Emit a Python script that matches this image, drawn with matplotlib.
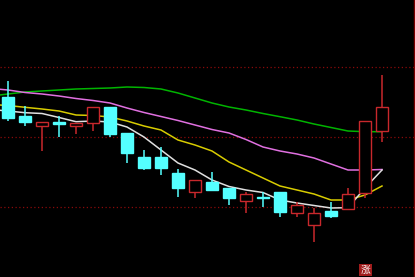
import matplotlib
matplotlib.use("Agg")
import matplotlib.pyplot as plt
import numpy as np

""" datos de las velas (precio en unidades arbitrarias) """
opens  = [18.03, 16.13, 15.13, 15.53, 15.15, 15.45, 17.03, 14.37, 12.03, 12.03, 10.45, 8.55,
          9.53, 8.87, 7.63, 8.01, 8.53, 6.37, 5.17, 6.63, 6.77, 8.37, 14.60]
closes = [15.93, 15.53, 15.53, 15.27, 15.45, 17.03, 14.30, 12.37, 10.87, 10.87, 8.87, 9.75,
          8.67, 7.87, 8.30, 7.93, 6.48, 7.23, 6.40, 6.13, 8.30, 15.63, 17.03]
highs  = [19.63, 17.13, 15.53, 16.13, 15.45, 17.03, 17.03, 14.37, 12.70, 13.00, 10.78, 9.75,
          10.53, 8.87, 8.53, 8.47, 8.53, 7.50, 6.95, 7.48, 8.87, 15.63, 20.20]
lows   = [15.63, 15.13, 12.63, 14.03, 14.30, 14.65, 14.03, 11.45, 10.70, 10.20, 8.03, 7.90,
          8.67, 7.20, 6.43, 7.03, 6.00, 5.97, 3.53, 5.90, 6.77, 7.87, 13.53]

""" medias moviles, el primer valor es de la vela anterior (fuera de la imagen) """
ma5  = [16.75, 16.60, 16.43, 16.35, 15.95, 15.53, 15.60, 15.50, 15.00, 14.00, 12.70, 11.40,
        10.70, 9.70, 9.05, 8.70, 8.45, 7.70, 7.40, 7.15, 6.90, 6.93, 8.90, 10.70]
ma10 = [17.25, 17.15, 16.97, 16.80, 16.60, 16.20, 16.15, 16.00, 15.60, 15.10, 14.70, 13.70,
        13.20, 12.60, 11.50, 10.70, 9.90, 9.10, 8.70, 8.30, 7.70, 7.70, 8.20, 9.10]
ma20 = [18.85, 18.70, 18.45, 18.30, 18.10, 17.85, 17.65, 17.40, 16.90, 16.45, 16.05, 15.65,
        15.20, 14.75, 14.40, 13.75, 13.00, 12.60, 12.30, 11.90, 11.30, 10.70, 10.70, 10.75]
ma60 = [18.10, 18.30, 18.50, 18.60, 18.70, 18.80, 18.85, 18.90, 19.00, 18.95, 18.80, 18.40,
        17.90, 17.40, 17.00, 16.70, 16.35, 16.03, 15.70, 15.30, 14.95, 14.60, 14.53, 14.53]

grid_levels = [7.0, 14.0, 21.0]

RED = "#c8282c"
CYAN = "#54ffff"

fig = plt.figure(figsize=(4.15, 2.77), dpi=100, facecolor="black")
ax = fig.add_axes([0, 0, 414 / 415, 1])
ax.set_facecolor("black")

x = np.arange(len(opens))
xm = np.arange(-1, len(ma5) - 1)

""" lineas de las medias """
ax.plot(xm, ma60, color="#00b400", lw=1.1, zorder=2)
ax.plot(xm, ma20, color="#e070e0", lw=1.1, zorder=2)
ax.plot(xm, ma10, color="#d8cc00", lw=1.1, zorder=2)
ax.plot(xm, ma5, color="#e0e0e0", lw=1.1, zorder=2)

""" velas """
w = 0.76
for i in x:
    o, c, h, l = opens[i], closes[i], highs[i], lows[i]
    up = c >= o
    col = RED if up else CYAN
    ax.vlines(i, l, h, color=col, lw=1.1, zorder=3)
    ax.bar(i, abs(c - o), width=w, bottom=min(o, c),
           facecolor="black" if up else col, edgecolor=col, lw=1.0, zorder=4)

ax.set_xlim(-8 / 17, 406 / 17)
ax.set_ylim(0, 27.7)

""" cuadricula punteada """
ax.set_yticks(grid_levels)
ax.set_xticks([])
ax.grid(axis="y", color="#8a0a0a", linestyle=(0, (1, 2)), lw=0.9)
ax.tick_params(length=0, labelleft=False)
for s in ["top", "left", "bottom"]:
    ax.spines[s].set_visible(False)
ax.spines["right"].set_color("#7a0000")
ax.spines["right"].set_linewidth(1.0)

fig.text(365.5 / 415, 1 - 270 / 277, "涨", color="white", fontsize=7,
         family=["Noto Sans CJK SC", "DejaVu Sans"], ha="center", va="center",
         bbox=dict(boxstyle="square,pad=0.12", fc="#a01c1c", ec="none"))

fig.savefig("out.png", dpi=100, facecolor="black")
